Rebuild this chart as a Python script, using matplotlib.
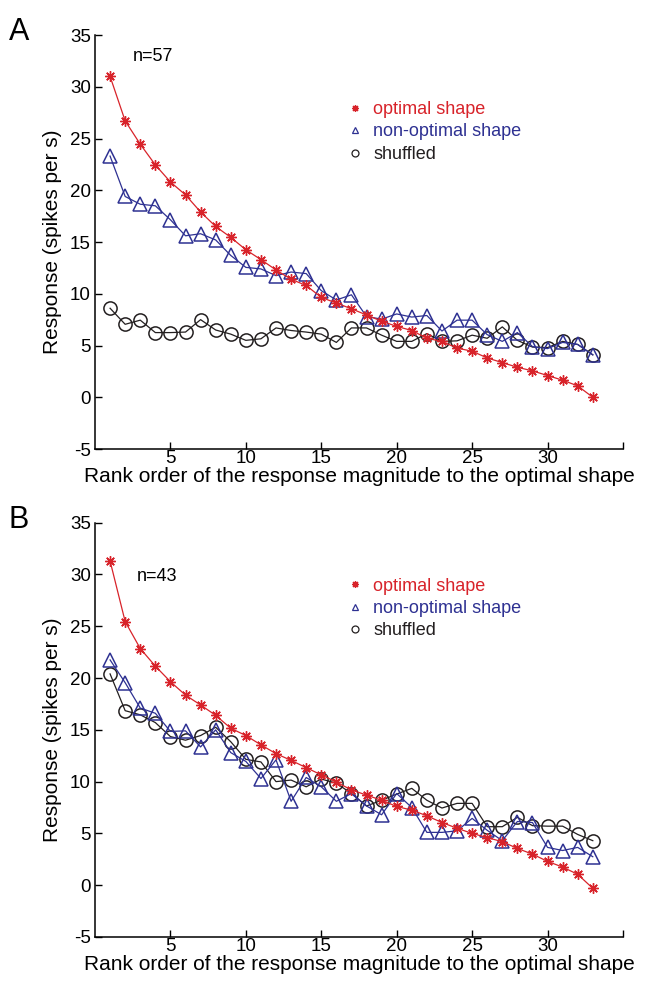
import numpy as np
import matplotlib
matplotlib.use('Agg')
import matplotlib.pyplot as plt
from matplotlib.lines import Line2D

plt.rcParams['font.family'] = ['Liberation Sans', 'DejaVu Sans']
plt.rcParams['axes.unicode_minus'] = False

# rank order (x axis)
rank = list(range(1, 34))

# Panel A (n=57)
a_optimal = [31.0, 26.7, 24.45, 22.45, 20.8, 19.55, 17.9, 16.5, 15.45, 14.25, 13.3,
             12.3, 11.4, 10.8, 9.65, 9.1, 8.55, 7.95, 7.35, 6.85, 6.45, 5.7, 5.4,
             4.75, 4.45, 3.8, 3.35, 2.9, 2.55, 2.1, 1.65, 1.1, 0.0]
a_nonoptimal = [23.3, 19.4, 18.65, 18.5, 17.15, 15.6, 15.8, 15.2, 13.7, 12.55, 12.4,
                11.75, 12.1, 11.95, 10.3, 9.4, 9.9, 7.8, 7.55, 8.05, 7.75, 7.9, 6.4,
                7.45, 7.45, 6.05, 5.4, 6.25, 4.9, 4.7, 5.3, 5.1, 4.1]
a_shuffled = [8.6, 7.05, 7.45, 6.25, 6.25, 6.3, 7.5, 6.5, 6.1, 5.5, 5.65, 6.7, 6.45,
              6.3, 6.1, 5.3, 6.7, 6.7, 6.0, 5.4, 5.4, 6.15, 5.4, 5.45, 6.0, 5.7,
              6.8, 5.5, 4.85, 4.8, 5.4, 5.1, 4.1]

# Panel B (n=43)
b_optimal = [31.3, 25.45, 22.85, 21.15, 19.65, 18.35, 17.4, 16.4, 15.15, 14.45, 13.55,
             12.7, 12.05, 11.35, 10.65, 9.95, 9.2, 8.7, 8.2, 7.6, 7.25, 6.7, 6.05,
             5.5, 5.0, 4.6, 4.2, 3.55, 3.0, 2.3, 1.75, 1.05, -0.3]
b_nonoptimal = [21.75, 19.55, 17.1, 16.6, 14.85, 14.9, 13.35, 15.0, 12.8, 11.95, 10.3,
                12.1, 8.1, 10.4, 9.5, 8.1, 8.85, 7.65, 6.8, 8.85, 7.5, 5.1, 5.1,
                5.25, 6.45, 5.3, 4.3, 6.15, 6.05, 3.65, 3.35, 3.65, 2.75]
b_shuffled = [20.4, 16.85, 16.45, 15.7, 14.35, 14.0, 14.45, 15.25, 13.85, 12.15, 11.9,
              10.0, 10.15, 9.5, 10.25, 9.85, 8.85, 7.65, 8.2, 8.8, 9.35, 8.2, 7.45,
              7.9, 7.9, 5.65, 5.65, 6.55, 5.75, 5.7, 5.7, 4.9, 4.3]

panel_letters = ['A', 'B']
n_labels = ['n=57', 'n=43']
series_names = ['optimal shape', 'non-optimal shape', 'shuffled']

red = '#d8232a'
blue = '#2e3192'
black = '#231f20'
star = (8, 2, 0)

fig = plt.figure(figsize=(6.57, 9.86), dpi=100)

# axes boxes [left, bottom, width, height] in figure fraction
boxes = [[0.1446, 0.5446, 0.8036, 0.4199],
         [0.1446, 0.0497, 0.8036, 0.4202]]
letter_y = [0.968, 0.473]
legend_top = [0.858, 0.885]
n_pos = [(0.072, 0.947), (0.079, 0.87)]

panels = [(a_optimal, a_nonoptimal, a_shuffled), (b_optimal, b_nonoptimal, b_shuffled)]

for i, (opt, non, shuf) in enumerate(panels):
    ax = fig.add_axes(boxes[i])
    ax.plot(rank, shuf, color=black, lw=0.9, marker='o', ms=9.5,
            mfc='none', mec=black, mew=1.1)
    ax.plot(rank, non, color=blue, lw=0.9, marker='^', ms=9.5,
            mfc='none', mec=blue, mew=1.1)
    ax.plot(rank, opt, color=red, lw=0.9, marker=star, ms=7.5,
            mec=red, mew=1.0)

    ax.set_xlim(0, 35)
    ax.set_ylim(-5, 35)
    ax.set_xticks([5, 10, 15, 20, 25, 30, 35])
    ax.set_xticklabels(['5', '10', '15', '20', '25', '30', ''])
    ax.set_yticks(range(-5, 36, 5))
    ax.tick_params(direction='in', length=5, width=1, labelsize=13.5)
    ax.tick_params(axis='x', pad=1)
    ax.tick_params(axis='y', pad=3)
    ax.spines['top'].set_visible(False)
    ax.spines['right'].set_visible(False)
    ax.spines['left'].set_linewidth(1.1)
    ax.spines['bottom'].set_linewidth(1.1)
    ax.set_xlabel('Rank order of the response magnitude to the optimal shape',
                  fontsize=15, labelpad=0)
    ax.set_ylabel('Response (spikes per s)', fontsize=15, labelpad=6)

    ax.text(n_pos[i][0], n_pos[i][1], n_labels[i], transform=ax.transAxes,
            fontsize=13, va='center', ha='left')
    fig.text(0.013, letter_y[i], panel_letters[i], fontsize=22, va='center')

    # legend with small marker handles
    handles = [Line2D([], [], ls='none', marker=star, ms=5, color=red, mew=0.9),
               Line2D([], [], ls='none', marker='^', ms=5, mfc='none', mec=blue, mew=0.9),
               Line2D([], [], ls='none', marker='o', ms=5, mfc='none', mec=black, mew=0.9)]
    leg = ax.legend(handles, series_names, loc='upper left',
                    bbox_to_anchor=(0.465, legend_top[i]), frameon=False,
                    fontsize=13, handlelength=0.8, handletextpad=0.6,
                    labelspacing=0.3, borderaxespad=0)
    for txt, c in zip(leg.get_texts(), [red, blue, black]):
        txt.set_color(c)

fig.savefig('out.png', dpi=100)
